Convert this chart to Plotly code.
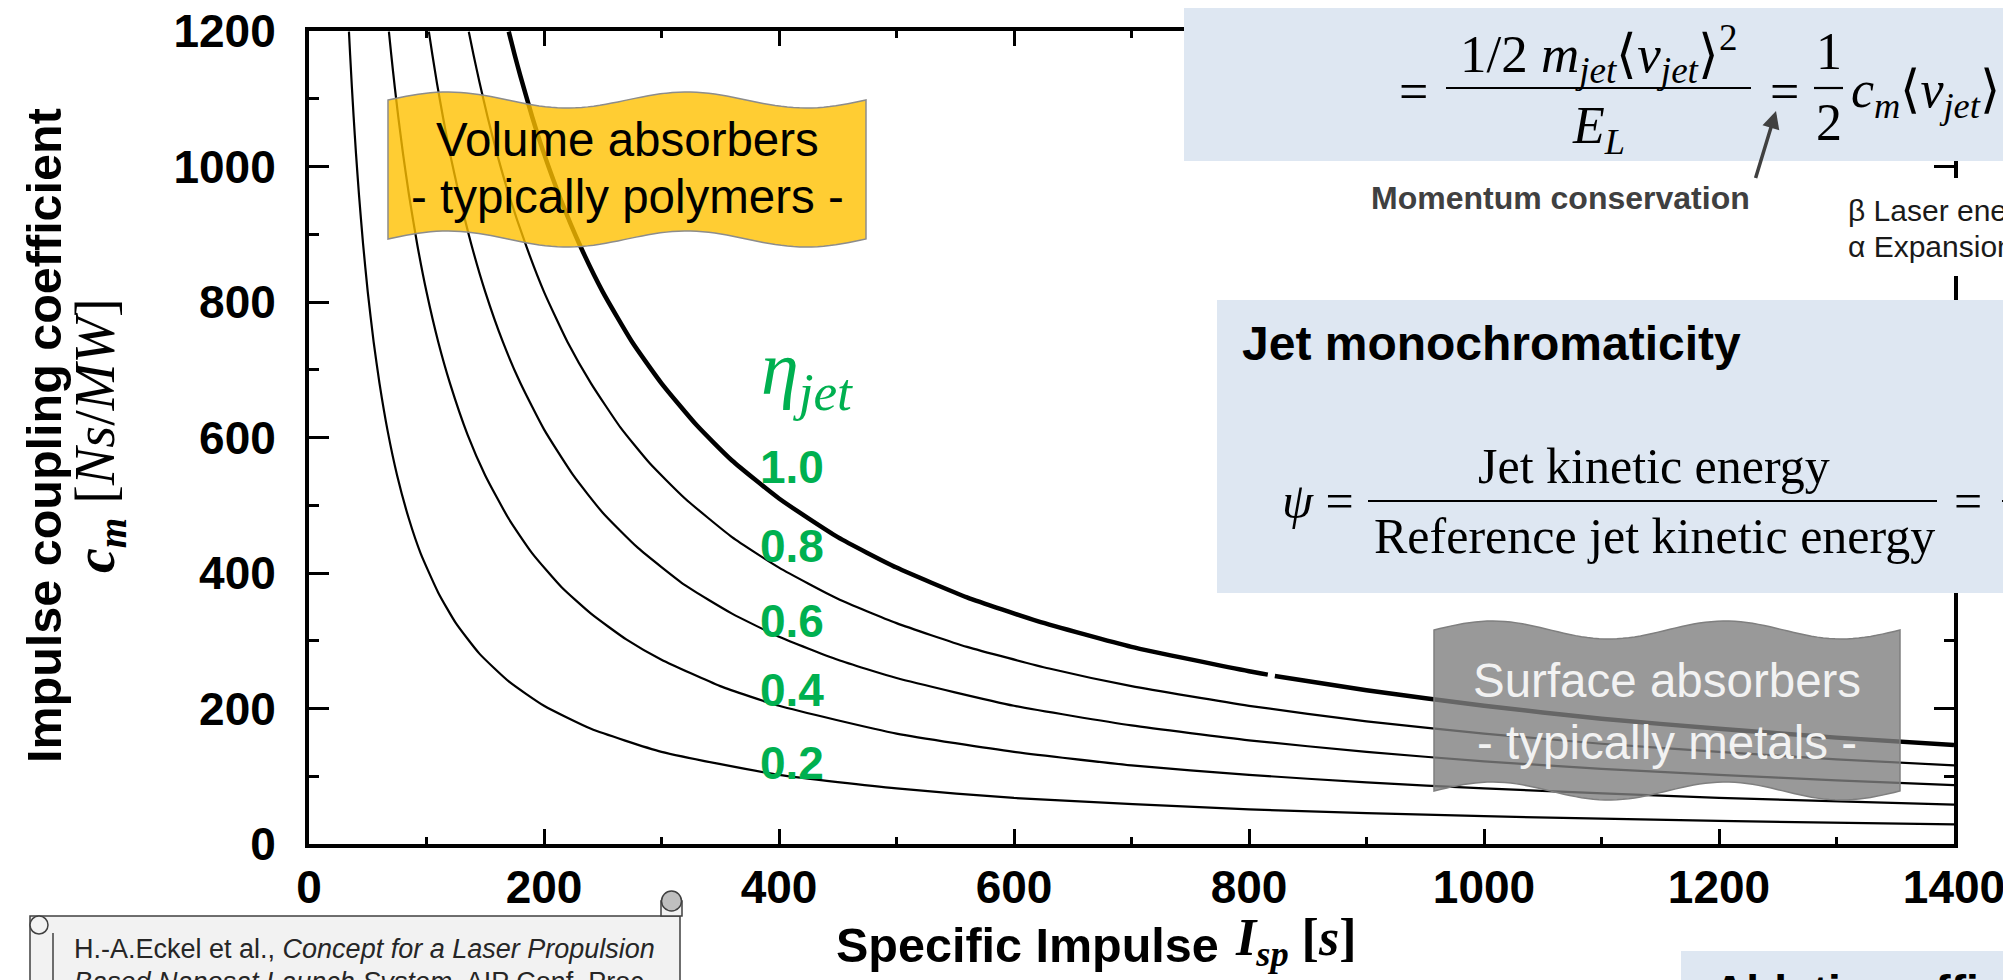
import numpy as np
import plotly.graph_objects as go

# ---------------- data ----------------
eta_labels = ["1.0", "0.8", "0.6", "0.4", "0.2"]
eta_label_y = [459, 538, 613, 682, 755]   # label centres (px) of the green eta values

isp_10 = [170, 175, 180, 190, 200, 215, 230, 250, 275, 300, 330, 360, 400, 450, 500,
          560, 620, 700, 800, 816, None, 822, 900, 1000, 1100, 1200, 1300, 1400]
cm_10 = [1199, 1165, 1133, 1073, 1019, 948, 886, 815, 741, 680, 618, 566, 510, 453, 408,
         364, 329, 291, 255, 250, None, 248, 227, 204, 185, 170, 157, 146]

isp_08 = [136, 140, 145, 152, 160, 170, 185, 200, 220, 240, 265, 290, 320, 360, 400,
          450, 500, 560, 630, 700, 800, 900, 1000, 1100, 1200, 1300, 1400]
cm_08 = [1199, 1165, 1125, 1073, 1019, 959, 882, 815, 741, 680, 615, 562, 510, 453, 408,
         362, 326, 291, 259, 233, 204, 181, 163, 148, 136, 125, 116]

isp_06 = [102, 105, 109, 114, 120, 128, 138, 150, 165, 180, 200, 225, 250, 280, 320,
          360, 400, 450, 500, 600, 700, 800, 900, 1000, 1100, 1200, 1300, 1400]
cm_06 = [1199, 1165, 1122, 1073, 1019, 956, 886, 815, 741, 680, 612, 544, 489, 437, 382,
         340, 306, 272, 245, 204, 175, 153, 136, 122, 111, 102, 94, 87]

isp_04 = [68, 70, 73, 76, 80, 85, 92, 100, 110, 120, 135, 150, 170, 190, 215,
          240, 270, 300, 350, 400, 500, 600, 700, 800, 900, 1000, 1200, 1400]
cm_04 = [1199, 1165, 1117, 1073, 1019, 959, 886, 815, 741, 680, 604, 544, 480, 429, 379,
         340, 302, 272, 233, 204, 163, 136, 116, 102, 91, 82, 68, 58]

isp_02 = [34, 35, 36.5, 38, 40, 42.5, 46, 50, 55, 60, 67, 75, 85, 95, 110,
          125, 145, 170, 200, 240, 300, 400, 500, 600, 800, 1000, 1200, 1400]
cm_02 = [1199, 1165, 1117, 1073, 1019, 959, 886, 815, 741, 680, 609, 544, 480, 429, 371,
         326, 281, 240, 204, 170, 136, 102, 82, 68, 51, 41, 34, 29]

series = [(isp_10, cm_10, 4.5), (isp_08, cm_08, 2.2), (isp_06, cm_06, 2.2),
          (isp_04, cm_04, 2.2), (isp_02, cm_02, 2.2)]

x_ticks = [0, 200, 400, 600, 800, 1000, 1200, 1400]
y_ticks = [0, 200, 400, 600, 800, 1000, 1200]

# ---------------- geometry helpers (pixel -> paper) ----------------
W, H = 2011, 980
L, R, T, B = 301, 1946, 23, 836


def px(x):
    return (x - L) / (R - L)


def py(y):
    return (B - y) / (B - T)


GREEN = "#00B050"
BLUE = "#DEE7F2"
SERIF = "Liberation Serif"
SANS = "Liberation Sans"

fig = go.Figure()
for xs, ys, w in series:
    fig.add_trace(go.Scatter(x=xs, y=ys, mode="lines", connectgaps=False,
                             line=dict(color="black", width=w, shape="spline", smoothing=0.5),
                             hoverinfo="skip", showlegend=False))


def wave_path(x0, x1, ytop, ybot, amp, n=80):
    ts = np.linspace(0, 1, n)
    top = [(x0 + (x1 - x0) * t, ytop - amp * np.sin(4 * np.pi * t)) for t in ts]
    bot = [(x0 + (x1 - x0) * t, ybot - amp * np.sin(4 * np.pi * t)) for t in ts[::-1]]
    pts = top + bot
    return "M " + " L ".join(f"{px(a):.5f},{py(b):.5f}" for a, b in pts) + " Z"


def rect(x0, y0, x1, y1, fill, line=None, lw=0):
    return dict(type="rect", xref="paper", yref="paper", x0=px(x0), x1=px(x1),
                y0=py(y1), y1=py(y0), fillcolor=fill, layer="above",
                line=dict(color=line or fill, width=lw))


def hline(x0, x1, y, w=2.2, color="black"):
    return dict(type="line", xref="paper", yref="paper", x0=px(x0), x1=px(x1),
                y0=py(y), y1=py(y), layer="above", line=dict(color=color, width=w))


def circle(cx, cy, r, fill, line="#404040", lw=1.5):
    return dict(type="circle", xref="paper", yref="paper", x0=px(cx - r), x1=px(cx + r),
                y0=py(cy + r), y1=py(cy - r), fillcolor=fill, layer="above",
                line=dict(color=line, width=lw))


shapes = [
    # wavy banners
    dict(type="path", xref="paper", yref="paper", path=wave_path(380, 858, 92, 231, 8),
         fillcolor="rgba(255,192,0,0.8)", line=dict(color="#8C8C8C", width=1.5), layer="above"),
    dict(type="path", xref="paper", yref="paper", path=wave_path(1426, 1892, 622, 783, 9),
         fillcolor="rgba(127,127,127,0.8)", line=dict(color="#7F7F7F", width=1.5), layer="above"),
    # light blue boxes
    rect(1176, -5, 2016, 153, BLUE),
    rect(1209, 292, 2016, 585, BLUE),
    rect(1673, 943, 2016, 990, BLUE),
    # white text box behind the beta / alpha notes
    rect(1830, 170, 2016, 268, "white"),
    # fraction bars
    hline(1438, 1743, 80),
    hline(1806, 1835, 80),
    hline(1360, 1929, 493),
    hline(1994, 2016, 493),
    # citation scroll
    rect(22, 908, 672, 995, "#F2F2F2", "#404040", 1.5),
    rect(653, 893, 674, 908, "#F2F2F2", "#404040", 1.5),
    circle(663.5, 893, 10, "#BFBFBF"),
    circle(31, 917, 9, "#F2F2F2"),
    dict(type="line", xref="paper", yref="paper", x0=px(45), x1=px(45), y0=py(925), y1=py(995),
         layer="above", line=dict(color="#404040", width=1.5)),
]


def A(x, y, text, size, color="black", family=SANS, xanchor="center", yanchor="middle", **kw):
    return dict(x=px(x), y=py(y), xref="paper", yref="paper", text=text, showarrow=False,
                font=dict(family=family, size=size, color=color),
                xanchor=xanchor, yanchor=yanchor, **kw)


ann = [
    # axis titles
    A(36, 428, "<b>Impulse coupling coefficient</b>", 48.5, textangle=-90),
    A(91, 428, "<b><i>c</i><sub><i>m</i></sub></b> [<i>Ns</i>/<i>MW</i>]", 56,
      family=SERIF, textangle=-90),
    A(1213, 937, "<b>Specific Impulse</b>", 48.5, xanchor="right"),
    A(1225, 934, "<b><i>I</i><sub><i>sp</i></sub> [<i>s</i>]</b>", 52, family=SERIF,
      xanchor="left"),
    # banners
    A(619, 132, "Volume absorbers", 47.5),
    A(619, 188, "- typically polymers -", 47.5),
    A(1659, 703, "Surface absorbers<br>- typically metals -", 47.5, color="#F2F2F2"),
    # eta label
    A(799, 366, "<i>η</i><sub><i>jet</i></sub>", 76, color=GREEN, family=SERIF),
    # top formula
    A(1405, 83, "=", 52, family=SERIF),
    A(1590, 46, "1/2 <i>m</i><sub><i>jet</i></sub>⟨<i>v</i><sub><i>jet</i></sub>⟩<sup>2</sup>",
      53, family=SERIF),
    A(1590, 121, "<i>E</i><sub><i>L</i></sub>", 52, family=SERIF),
    A(1776, 83, "=", 52, family=SERIF),
    A(1821, 44, "1", 52, family=SERIF),
    A(1821, 114, "2", 52, family=SERIF),
    A(1841, 86, "<i>c</i><sub><i>m</i></sub>⟨<i>v</i><sub><i>jet</i></sub>⟩", 52,
      family=SERIF, xanchor="left"),
    A(1552, 190, "<b>Momentum conservation</b>", 32, color="#404040"),
    dict(x=px(1768), y=py(103), xref="paper", yref="paper", ax=-21, ay=69, text=" ",
         showarrow=True, arrowhead=2, arrowsize=1, arrowwidth=3.5, arrowcolor="#404040",
         font=dict(size=1)),
    A(1838, 202, "β Laser energy", 30, color="#1A1A1A", xanchor="left"),
    A(1838, 239, "α Expansion", 30, color="#1A1A1A", xanchor="left"),
    # jet monochromaticity box
    A(1232, 335, "<b>Jet monochromaticity</b>", 48, xanchor="left"),
    A(1348, 493, "<i>ψ</i> =", 50, family=SERIF, xanchor="right"),
    A(1646, 458, "Jet kinetic energy", 50, family=SERIF),
    A(1646, 528, "Reference jet kinetic energy", 50, family=SERIF),
    A(1960, 493, "=", 50, family=SERIF),
    A(1995, 528, "<i>E</i>", 50, family=SERIF, xanchor="left"),
    # ablation box
    A(1703, 984, "<b>Ablation efficiency</b>", 46, xanchor="left"),
    # citation
    A(64, 941, "H.-A.Eckel et al., <i>Concept for a Laser Propulsion</i>", 27,
      color="#262626", xanchor="left"),
    A(64, 974, "<i>Based Nanosat Launch System,</i> AIP Conf. Proc.", 27,
      color="#262626", xanchor="left"),
]
for lab, yy in zip(eta_labels, eta_label_y):
    ann.append(A(784, yy, f"<b>{lab}</b>", 46, color=GREEN))

axis_common = dict(showline=True, linewidth=4, linecolor="black", mirror="ticks",
                   ticks="inside", tickwidth=3, tickcolor="black", showgrid=False,
                   zeroline=False, automargin=False, ticklabeloverflow="allow",
                   tickfont=dict(family=SANS, size=46, color="black", weight="bold"))

fig.update_layout(
    width=W, height=H, autosize=False,
    margin=dict(l=L, r=W - R, t=T, b=H - B),
    paper_bgcolor="white", plot_bgcolor="white",
    xaxis=dict(range=[0, 1400], tickvals=x_ticks, ticklen=15, ticklabelstandoff=0,
               minor=dict(dtick=100, ticks="inside", ticklen=7, tickwidth=3, tickcolor="black"),
               **axis_common),
    yaxis=dict(range=[0, 1200], tickvals=y_ticks, ticklen=20, ticklabelstandoff=20,
               minor=dict(dtick=100, ticks="inside", ticklen=10, tickwidth=3, tickcolor="black"),
               **axis_common),
    shapes=shapes, annotations=ann, showlegend=False,
)

fig.write_html("out.html")
